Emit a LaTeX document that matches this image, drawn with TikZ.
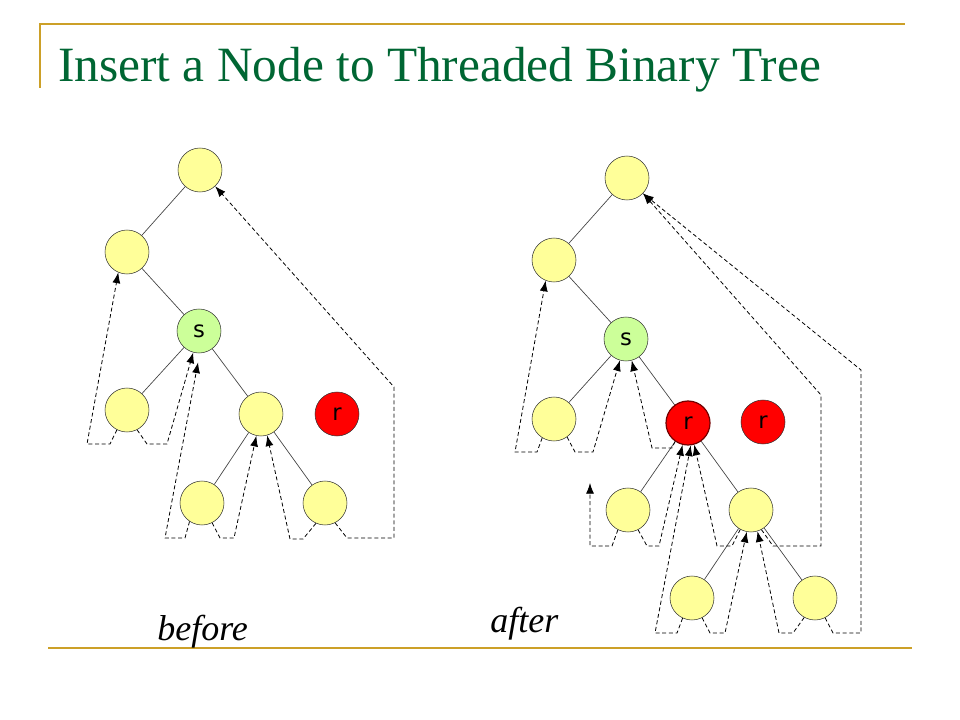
\documentclass[tikz,border=0pt]{standalone}
\usepackage{fontspec}
\setmainfont{Liberation Serif}
\newfontfamily\labelfont{DejaVu Sans}
\usetikzlibrary{arrows.meta}
\definecolor{frameColor}{RGB}{204,160,40}
\definecolor{titleColor}{RGB}{0,102,51}
\definecolor{leafColor}{RGB}{255,255,153}
\definecolor{focusColor}{RGB}{204,255,153}
\definecolor{newColor}{RGB}{255,0,0}

\begin{document}
\begin{tikzpicture}[x=0.75pt,y=-0.75pt]

          \tikzstyle{normalNode} = [circle, draw=black!80, fill=leafColor, minimum size=33pt, inner sep=0pt, font=\labelfont\fontsize{17}{17}\selectfont];
          \tikzstyle{focusNode} = [normalNode, fill=focusColor];
          \tikzstyle{newNode} = [normalNode, fill=newColor];
          \tikzstyle{insertedNode} = [newNode, draw=red!45!black, line width=0.9pt];

          \tikzstyle{normalEdge} = [black!75, line width=0.5pt];
          \tikzstyle{threadEdge} = [line width=0.6pt, dash pattern=on 3pt off 2pt, -{Latex[length=8pt,width=6pt]}];
          \tikzstyle{frameLine} = [frameColor, line width=1.8pt];
          \tikzstyle{titleText} = [titleColor, anchor=base west, inner sep=0pt, font=\fontsize{37}{40}\selectfont];
          \tikzstyle{captionText} = [anchor=base west, inner sep=0pt, font=\fontsize{27}{29}\selectfont\itshape];

          \useasboundingbox (0,0) rectangle (960,720);

          \draw[frameLine] (40,88) -- (40,24) -- (905,24);
          \draw[frameLine] (48,648) -- (912,648);
          \node[titleText] (title) at (58,82) {Insert a Node to Threaded Binary Tree};

          \node[normalNode] (bRoot) at (200,170) {};
          \node[normalNode] (bP) at (127,252) {};
          \node[focusNode] (bS) at (199,331) {s};
          \node[normalNode] (bSL) at (127,410) {};
          \node[normalNode] (bSR) at (261,414) {};
          \node[newNode] (bNew) at (337,414) {r};
          \node[normalNode] (bSRL) at (202,503) {};
          \node[normalNode] (bSRR) at (325,503) {};

          \draw[normalEdge] (bRoot) -- (bP);
          \draw[normalEdge] (bP) -- (bS);
          \draw[normalEdge] (bS) -- (bSL);
          \draw[normalEdge] (bS) -- (bSR);
          \draw[normalEdge] (bSR) -- (bSRL);
          \draw[normalEdge] (bSR) -- (bSRR);

          \draw[threadEdge] (bSL.243) -- (110,444) -- (87,444) -- (bP.247);
          \draw[threadEdge] (bSL.297) -- (147,444) -- (167,444) -- (bS.255);
          \draw[threadEdge, shorten >=7pt] (bSRL.236) -- (185,538) -- (165,538) -- (bS.272);
          \draw[threadEdge] (bSRL.297) -- (220,538) -- (234,538) -- (bSR.258);
          \draw[threadEdge] (bSRR.246) -- (303,539) -- (290,539) -- (bSR.286);
          \draw[threadEdge] (bSRR.297) -- (347,538) -- (394,538) -- (394,387) -- (bRoot.313);

          \node[captionText] (before) at (157,640) {before};

          \node[normalNode] (aRoot) at (627,178) {};
          \node[normalNode] (aP) at (554,260) {};
          \node[focusNode] (aS) at (626,339) {s};
          \node[normalNode] (aSL) at (554,419) {};
          \node[insertedNode] (aR) at (688,423) {r};
          \node[newNode] (aNew) at (763,422) {r};
          \node[normalNode] (aRL) at (628,510) {};
          \node[normalNode] (aRR) at (751,510) {};
          \node[normalNode] (aRRL) at (692,598) {};
          \node[normalNode] (aRRR) at (815,598) {};
          \coordinate (aDangle) at (590,483);

          \draw[normalEdge] (aRoot) -- (aP);
          \draw[normalEdge] (aP) -- (aS);
          \draw[normalEdge] (aS) -- (aSL);
          \draw[normalEdge] (aS) -- (aR);
          \draw[normalEdge] (aR) -- (aRL);
          \draw[normalEdge] (aR) -- (aRR);
          \draw[normalEdge] (aRR) -- (aRRL);
          \draw[normalEdge] (aRR) -- (aRRR);

          \draw[threadEdge] (aSL.238) -- (537,452) -- (515,452) -- (aP.248);
          \draw[threadEdge] (aSL.306) -- (575,452) -- (593,452) -- (aS.254);
          \draw[threadEdge] (aR.235) -- (672,448) -- (652,448) -- (aS.285);
          \draw[threadEdge] (aRL.243) -- (612,546) -- (590,546) -- (aDangle);
          \draw[threadEdge] (aRL.297) -- (647,546) -- (659,546) -- (aR.256);
          \draw[threadEdge] (aRR.241) -- (732,546) -- (717,546) -- (aR.286);
          \draw[threadEdge] (aRR.298) -- (773,546) -- (821,546) -- (821,395) -- (aRoot.316);
          \draw[threadEdge] (aRRL.245) -- (677,633) -- (655,633) -- (aR.277);
          \draw[threadEdge] (aRRL.297) -- (710,633) -- (725,633) -- (aRR.259);
          \draw[threadEdge] (aRRR.241) -- (793,633) -- (779,633) -- (aRR.287);
          \draw[threadEdge] (aRRR.297) -- (833,633) -- (861,633) -- (861,370) -- (aRoot.316);

          \node[captionText] (after) at (490,632) {after};
        \end{tikzpicture}
\end{document}
